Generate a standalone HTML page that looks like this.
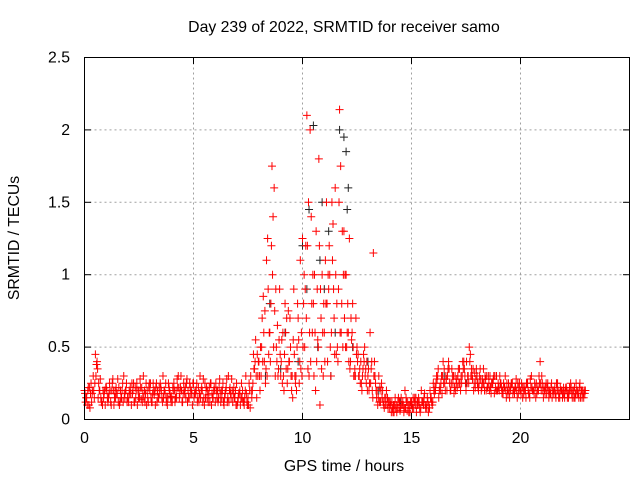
<!DOCTYPE html>
<html><head><meta charset="utf-8"><style>
body{margin:0;background:#fff;}
svg{display:block;font-family:"Liberation Sans",sans-serif;}
</style></head><body>
<svg id="chart" width="640" height="480">
<text x="344" y="32" text-anchor="middle" font-size="15.8">Day 239 of 2022, SRMTID for receiver samo</text>
<text x="344" y="471" text-anchor="middle" font-size="15.8">GPS time / hours</text>
<text transform="translate(19,238) rotate(-90)" text-anchor="middle" font-size="15.8">SRMTID / TECUs</text>
<g id="grid"></g><g id="ticks"></g><g id="marks"></g>
<rect x="84.5" y="57.5" width="545" height="362" fill="none" stroke="#000"/>
</svg>
<script>
const xTicks=[0,5,10,15,20];
const yTicks=[0,0.5,1,1.5,2,2.5];
const yTickLabels=["0","0.5","1","1.5","2","2.5"];
const redA=[.2,.15,.1,.25,.3,.45,.35,.2,.12,.18,.22,.15,.12,.28,.2,.18,.1,.15,.3,.2,.15,.22,.18,.12,.25,.2,.14,.3,.18,.15,.2,.12,.17,.25,.15,.22,.3,.18,.1,.2,.16,.25,.2,.3,.22,.12,.18,.28,.15,.2,.25,.18,.15,.3,.2,.1,.22,.17,.25,.15,.12,.2,.28,.15,.1,.22,.3,.18,.12,.15,.1,.18,.25,.12,.3,.15,.08,.2,.35,.15,.4,.3,.85,.25,1.25,.6,1.75,1.6,.5,.35,.3,.6,.8,.25,.4,.2,.9,.3,.7,1.1,1.25,.5,2.1,.3,1.4,.8,.2,.55,.1,1.0,.6,1.5,.9,.3,1.35,1.6,.5,2.14,.8,1.3,1.0,.6,.4,.8,.35,.5,.3,.25,.45,.35,.3,.6,.2,.4,.15,.3,.2,.12,.1,.15,.08,.12,.05,.1,.15,.08,.12,.2,.06,.1,.12,.08,.15,.1,.05,.12,.18,.08,.1,.15,.25,.2,.3,.22,.18,.35,.28,.4,.2,.25,.3,.22,.35,.25,.4,.2,.3,.45,.28,.32,.3,.25,.2,.35,.28,.22,.3,.25,.18,.3,.22,.25,.18,.3,.2,.15,.25,.2,.28,.18,.2,.15,.22,.25,.18,.3,.2,.15,.22,.4,.25,.2,.18,.15,.22,.2,.18,.25,.15,.2,.18,.22,.15,.25,.2,.15,.18,.22,.2,.15];
const redB=[.12,.2,.08,.18,.15,.38,.25,.15,.2,.1,.15,.25,.2,.1,.22,.12,.2,.25,.15,.12,.2,.1,.25,.15,.2,.28,.12,.2,.1,.22,.15,.25,.1,.2,.18,.15,.2,.12,.25,.15,.22,.12,.28,.15,.2,.25,.15,.2,.22,.1,.18,.25,.12,.2,.28,.15,.2,.12,.18,.22,.2,.15,.12,.25,.18,.12,.2,.28,.22,.1,.15,.1,.2,.15,.12,.25,.2,.45,.55,.3,.2,.7,.4,1.1,.45,.8,1.4,.3,.65,.9,.55,.2,.35,.75,.5,.15,.3,.5,.25,.6,.8,1.2,.35,2.0,.6,1.0,.4,1.8,.7,.3,1.1,.4,1.0,1.5,.7,.45,.9,1.75,.5,1.0,.6,1.25,.55,.3,.7,.45,.25,.3,.5,.4,.2,.35,1.15,.25,.1,.22,.15,.08,.2,.12,.1,.05,.15,.08,.12,.1,.05,.15,.1,.12,.08,.15,.1,.12,.2,.1,.08,.12,.2,.1,.18,.3,.15,.25,.4,.2,.3,.25,.35,.18,.25,.35,.2,.4,.3,.25,.5,.35,.2,.28,.22,.35,.28,.2,.3,.25,.18,.28,.22,.2,.3,.18,.22,.15,.25,.2,.18,.22,.15,.25,.25,.18,.15,.2,.28,.2,.25,.18,.3,.2,.15,.22,.25,.18,.15,.2,.25,.15,.2,.18,.2,.15,.22,.18,.15,.25,.18,.15,.2,.18];
const redC=[.18,.1,.22,.12,.2,.3,.15,.28,.1,.2,.2,.18,.1,.2,.15,.28,.12,.2,.18,.25,.12,.18,.2,.22,.1,.15,.22,.15,.25,.12,.25,.18,.2,.12,.22,.2,.15,.25,.15,.18,.12,.2,.15,.22,.3,.18,.22,.12,.25,.18,.15,.2,.22,.15,.12,.25,.15,.22,.1,.2,.25,.12,.18,.2,.15,.28,.12,.15,.18,.2,.12,.2,.15,.1,.18,.1,.3,.25,.4,.45,.3,.5,.6,.35,.9,.4,1.0,.75,.4,.55,.4,.3,.6,.35,.7,.3,.45,.2,.55,.35,.5,.9,1.2,.6,.8,.3,1.3,.5,.9,.6,.4,.8,1.2,.6,.9,1.0,.4,.6,1.3,.7,.5,.4,.7,.5,.3,.4,.35,.2,.4,.25,.35,.25,.15,.3,.2,.12,.25,.1,.15,.08,.12,.08,.1,.05,.08,.15,.1,.08,.12,.05,.1,.12,.05,.15,.08,.12,.1,.15,.08,.12,.2,.25,.35,.2,.3,.25,.2,.35,.25,.3,.2,.3,.25,.3,.35,.4,.25,.3,.35,.22,.25,.3,.22,.25,.2,.3,.22,.25,.3,.2,.2,.22,.25,.2,.18,.22,.25,.18,.2,.22,.18,.22,.2,.25,.15,.22,.18,.25,.2,.25,.2,.18,.22,.2,.25,.18,.15,.2,.22,.15,.15,.2,.18,.22,.2,.18,.2,.25,.15,.2];
const redD=[.15,.22,.18,.2,.25,.4,.2,.12,.15,.22,.12,.2,.25,.15,.18,.22,.15,.12,.2,.15,.18,.25,.12,.2,.15,.22,.18,.12,.2,.25,.12,.2,.22,.15,.25,.12,.2,.15,.22,.12,.2,.15,.22,.18,.12,.2,.25,.15,.18,.25,.2,.12,.18,.22,.15,.2,.12,.25,.15,.2,.15,.22,.2,.12,.2,.15,.22,.2,.15,.25,.18,.15,.12,.2,.1,.2,.15,.35,.3,.4,.5,.4,.75,.3,.6,1.2,.5,.9,.3,.45,.25,.45,.7,.4,.3,.55,.25,.8,.4,.3,1.0,.7,1.5,.4,1.0,.6,.9,1.2,.35,.8,.8,1.0,.5,1.1,.45,.8,1.5,.6,1.0,.5,.8,.35,.6,.3,.45,.3,.4,.35,.3,.2,.25,.4,.3,.2,.15,.12,.2,.15,.1,.12,.05,.1,.08,.12,.06,.1,.08,.12,.05,.1,.15,.1,.12,.08,.12,.15,.1,.05,.15,.12,.22,.28,.2,.3,.25,.3,.35,.2,.3,.22,.28,.25,.3,.35,.25,.3,.4,.3,.25,.35,.2,.28,.25,.3,.22,.2,.25,.3,.2,.25,.25,.2,.22,.25,.2,.25,.2,.22,.25,.2,.22,.2,.25,.18,.22,.2,.22,.2,.25,.3,.22,.25,.2,.18,.2,.22,.2,.18,.2,.22,.22,.18,.2,.15,.22,.2,.15,.2,.18,.2];
const blackT=[8.5,9.2,10,10.3,10.5,10.7,11,11.2,11.5,11.7,12,12.1,9.8,10.2,10.8,11.3,12.3,13,14.5,16.5,17.5,9,8.3,10.9,11.9,12.05,18,19,15,13.5];
const blackV=[.8,.6,1.2,1.45,2.03,.5,.9,1.3,.6,2.0,1.85,1.6,.4,.9,1.1,.3,.5,.4,.12,.3,.25,.35,.3,1.5,1.95,1.45,.3,.22,.1,.2];
const X=t=>84.5+t*21.8, Y=v=>419.5-v*144.8;
const NS="http://www.w3.org/2000/svg";
function mk(tag,attrs,parent){const e=document.createElementNS(NS,tag);for(const k in attrs)e.setAttribute(k,attrs[k]);document.getElementById(parent).appendChild(e);return e;}
xTicks.forEach(t=>{
  if(t>0){const g=mk('line',{x1:X(t),x2:X(t),y1:57.5,y2:419.5,stroke:'#a0a0a0','stroke-dasharray':'2,3'},'grid');
  
  }
  mk('line',{x1:X(t),x2:X(t),y1:419.5,y2:413,stroke:'#000'},'ticks');
  mk('line',{x1:X(t),x2:X(t),y1:57.5,y2:64,stroke:'#000'},'ticks');
  const l=mk('text',{x:X(t),y:443,'text-anchor':'middle','font-size':'15.8'},'ticks');l.textContent=t;
  
  
});
yTicks.forEach((v,i)=>{
  if(v>0&&v<2.5){const g=mk('line',{x1:84.5,x2:629.5,y1:Y(v),y2:Y(v),stroke:'#a0a0a0','stroke-dasharray':'2,3'},'grid');
  
  }
  mk('line',{x1:84.5,x2:91,y1:Y(v),y2:Y(v),stroke:'#000'},'ticks');
  mk('line',{x1:629.5,x2:623,y1:Y(v),y2:Y(v),stroke:'#000'},'ticks');
  const l=mk('text',{x:70,y:Y(v)+5,'text-anchor':'end','font-size':'15.8'},'ticks');l.textContent=yTickLabels[i];
  
  
});
function plus(t,v,c,name){const x=X(t),y=Y(v);
  const p=mk('path',{d:`M${x-4} ${y}H${x+4}M${x} ${y-4}V${y+4}`,stroke:c,'stroke-width':1},'marks');
  
  }
blackT.forEach((t,i)=>plus(t,blackV[i],'#222','black-point'));
redA.forEach((v,i)=>plus(i*0.1,v,'#ff0000','red-point'));
redB.forEach((v,i)=>plus(i*0.1+0.05,v,'#ff0000','red-point'));
redC.forEach((v,i)=>plus(i*0.1+0.025,v,'#ff0000','red-point'));
redD.forEach((v,i)=>plus(i*0.1+0.075,v,'#ff0000','red-point'));
</script>
</body></html>
